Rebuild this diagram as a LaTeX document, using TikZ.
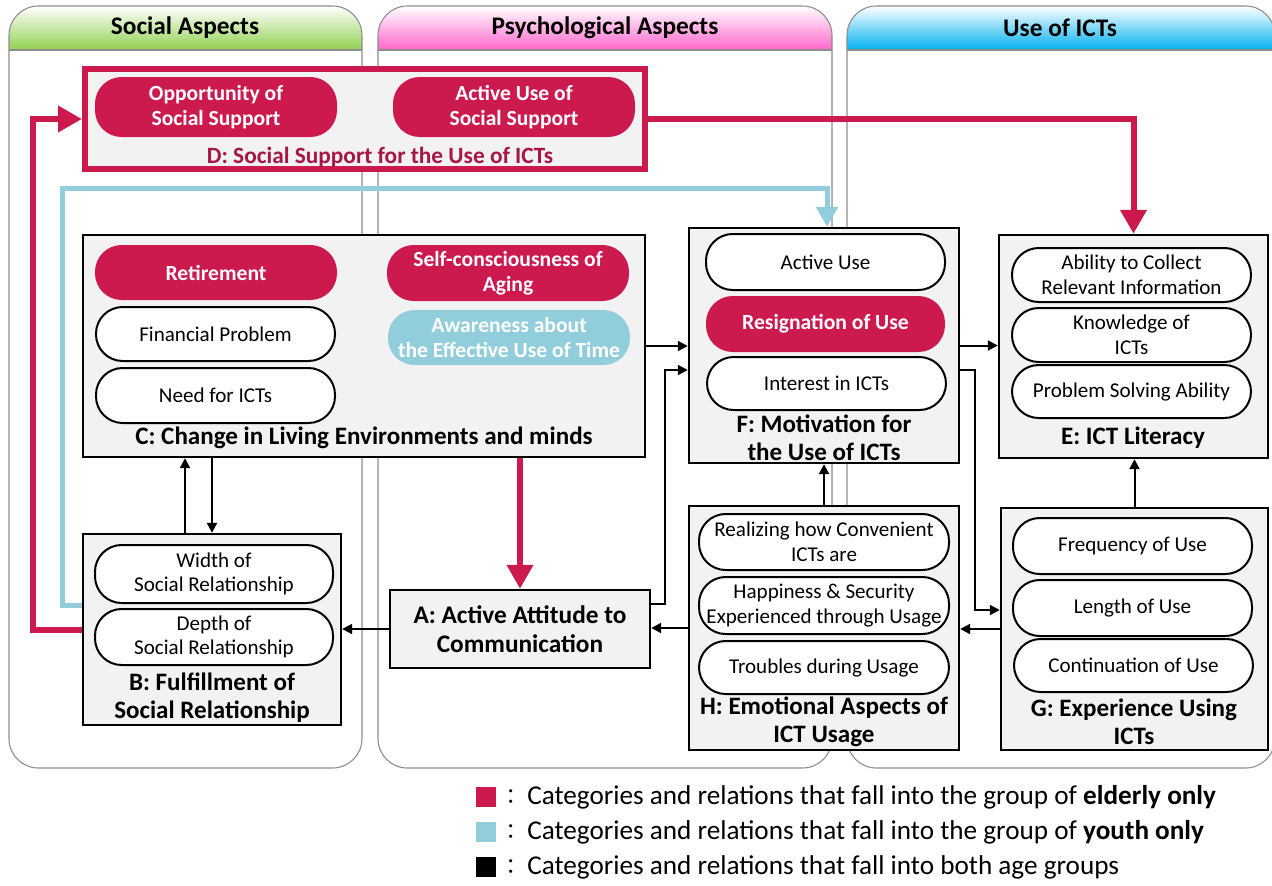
\documentclass[tikz,border=0pt]{standalone}
\usepackage{fontspec}
\setmainfont{Carlito}
\newfontfamily\cjk{Noto Sans CJK JP}
\usetikzlibrary{arrows.meta,calc}
\definecolor{crim}{RGB}{205,26,78}
\definecolor{crimdark}{RGB}{168,22,70}
\definecolor{lblue}{RGB}{146,205,220}
\definecolor{boxgray}{RGB}{242,242,242}
\definecolor{panelgray}{RGB}{140,140,140}
\definecolor{hgreen}{RGB}{146,208,80}
\definecolor{hpink}{RGB}{255,102,204}
\definecolor{hblue}{RGB}{0,176,240}
\tikzset{
  panelline/.style={draw=panelgray, line width=0.8pt},
  box/.style={draw=black, line width=1.8pt, fill=boxgray, inner sep=0pt},
  dbox/.style={draw=crim, line width=4.5pt, fill=boxgray, inner sep=0pt},
  pillw/.style={draw=black, line width=1.5pt, fill=white, rounded corners=20pt, inner sep=0pt, align=center, font=\fontsize{15.8}{18.5}\selectfont},
  pillc/.style={fill=crim, rounded corners=20pt, inner sep=0pt, align=center, text=white, font=\bfseries\fontsize{16.2}{19}\selectfont},
  pillb/.style={fill=lblue, rounded corners=20pt, inner sep=0pt, align=center, text=white, font=\bfseries\fontsize{16.2}{19}\selectfont},
  lab/.style={font=\bfseries\fontsize{18.8}{21}\selectfont, align=center, inner sep=0pt},
  alab/.style={font=\bfseries\fontsize{19}{21.5}\selectfont, align=center},
  dlab/.style={font=\bfseries\fontsize{17.5}{20}\selectfont, inner sep=0pt, text=crimdark},
  head/.style={font=\bfseries\fontsize{19}{22}\selectfont, inner sep=0pt},
  leg/.style={font=\fontsize{20.4}{23}\selectfont, anchor=west, inner sep=0pt},
  arr/.style={line width=1.5pt, -{Triangle[length=7.5pt,width=7.5pt]}},
  carr/.style={draw=crim, line width=4.5pt, -{Triangle[length=18pt,width=19pt]}},
  barr/.style={draw=lblue, line width=3.75pt, -{Triangle[length=15pt,width=16pt]}},
}
\newcommand\mkbox[7]{\node[#1, minimum width={(#5-#3)*0.75pt}, minimum height={(#6-#4)*0.75pt}] (#2) at ({(#3+#5)/2},{(#4+#6)/2}) {#7};}
\begin{document}
\begin{tikzpicture}[x=0.75pt,y=-0.75pt]
\useasboundingbox (0,0) rectangle (1272,886);
\fill[white] (0,0) rectangle (1272,886);
% panels
\begin{scope}
\clip[rounded corners=22pt] (9,6) rectangle (362,768);
\shade[top color=white, bottom color=hgreen] (9,6) rectangle (362,50);
\end{scope}
\draw[panelline, rounded corners=22pt] (9,6) rectangle (362,768);
\draw[panelline] (9,50) -- (362,50);
\begin{scope}
\clip[rounded corners=22pt] (378,6) rectangle (832,768);
\shade[top color=white, bottom color=hpink] (378,6) rectangle (832,50);
\end{scope}
\draw[panelline, rounded corners=22pt] (378,6) rectangle (832,768);
\draw[panelline] (378,50) -- (832,50);
\begin{scope}
\clip[rounded corners=22pt] (847,6) rectangle (1275,768);
\shade[top color=white, bottom color=hblue] (847,6) rectangle (1275,50);
\end{scope}
\draw[panelline, rounded corners=22pt] (847,6) rectangle (1275,768);
\draw[panelline] (847,50) -- (1275,50);
\node[head] (hs) at (185,28) {Social Aspects};
\node[head] (hp) at (605,28) {Psychological Aspects};
\node[head] (hi) at (1060,28) {Use of ICTs};

% D
\mkbox{dbox}{D}{85}{69}{645}{169}{}
\mkbox{pillc}{d1}{95}{77}{337}{137}{Opportunity of\\Social Support}
\mkbox{pillc}{d2}{393}{77}{635}{137}{Active Use of\\Social Support}
\node[dlab] (labD) at (380,157) {D: Social Support for the Use of ICTs};

% C
\mkbox{box}{C}{83}{235}{645}{457}{}
\mkbox{pillc}{c1}{95}{245}{337}{300}{Retirement}
\mkbox{pillw}{c2}{96}{307}{335}{361}{Financial Problem}
\mkbox{pillw}{c3}{96}{368}{335}{423}{Need for ICTs}
\mkbox{pillc}{c4}{387}{245}{629}{301}{Self-consciousness of\\Aging}
\mkbox{pillb}{c5}{388}{310}{630}{365}{Awareness about\\the Effective Use of Time}
\node[lab] (labC) at (364,438) {C: Change in Living Environments and minds};

% B
\mkbox{box}{B}{83}{534}{341}{725}{}
\mkbox{pillw}{b1}{95}{545}{333}{603}{Width of\\Social Relationship}
\mkbox{pillw}{b2}{95}{609}{333}{665}{Depth of\\Social Relationship}
\node[lab] (labB) at (212,698) {B: Fulfillment of\\Social Relationship};

% A
\mkbox{box,alab}{A}{390}{590}{650}{668}{A: Active Attitude to\\Communication}

% F
\mkbox{box}{F}{689}{228}{959}{463}{}
\mkbox{pillw}{f1}{706}{234}{945}{290}{Active Use}
\mkbox{pillc}{f2}{706}{296}{945}{352}{Resignation of Use}
\mkbox{pillw}{f3}{707}{357}{946}{410}{Interest in ICTs}
\node[lab] (labF) at (824,438) {F: Motivation for\\the Use of ICTs};

% E
\mkbox{box}{E}{999}{235}{1268}{458}{}
\mkbox{pillw}{e1}{1012}{248}{1251}{302}{Ability to Collect\\Relevant Information}
\mkbox{pillw}{e2}{1012}{308}{1251}{362}{Knowledge of\\ICTs}
\mkbox{pillw}{e3}{1012}{365}{1251}{418}{Problem Solving Ability}
\node[lab] (labE) at (1133,438) {E: ICT Literacy};

% H
\mkbox{box}{H}{689}{506}{959}{750}{}
\mkbox{pillw}{h1}{699}{514}{949}{570}{Realizing how Convenient\\ICTs are}
\mkbox{pillw}{h2}{699}{577}{949}{634}{Happiness \& Security\\Experienced through Usage}
\mkbox{pillw}{h3}{699}{641}{949}{694}{Troubles during Usage}
\node[lab] (labH) at (824,722) {H: Emotional Aspects of\\ICT Usage};

% G
\mkbox{box}{G}{1001}{508}{1268}{750}{}
\mkbox{pillw}{g1}{1013}{518}{1252}{574}{Frequency of Use}
\mkbox{pillw}{g2}{1013}{580}{1252}{636}{Length of Use}
\mkbox{pillw}{g3}{1014}{639}{1253}{692}{Continuation of Use}
\node[lab] (labG) at (1134,722) {G: Experience Using\\ICTs};

% coordinates for bends
\coordinate (k1) at (665,370);
\coordinate (k2) at (975,610);
\coordinate (k3) at (33,0);
\coordinate (k4) at (62,188);
\coordinate (k5) at (827,188);

% black connectors
\draw[arr] (C.east) -- (C.east -| F.west);
\draw[arr] (F.east) -- (F.east -| E.west);
\draw[arr] ($(A.east)+(0,-25)$) -| (k1) -- (k1 -| F.west);
\draw[arr] (F.east |- k1) -| (k2) -- (k2 -| G.west);
\draw[arr] (A.west) -- (A.west -| B.east);
\draw[arr] (H.west) -- (H.west -| A.east);
\draw[arr] (G.west) -- (G.west -| H.east);
\draw[arr] (H.north) -- (H.north |- F.south);
\draw[arr] (G.north) -- (G.north |- E.south);
\draw[arr] ($(B.north)+(-27,0)$) -- ($(B.north |- C.south)+(-27,0)$);
\draw[arr] (C.south -| B.north) -- (B.north);

% crimson connectors
\draw[carr] (C.south -| A.north) -- (A.north);
\draw[carr] (B.west) -- (B.west -| k3) |- (D.west);
\draw[carr] (D.east) -| (E.north);

% blue connector
\draw[barr] ($(B.west)+(0,-24)$) -| (k4) -- (k5) -- (k5 |- F.north);

% legend
\fill[crim] (476,787) rectangle (496,807);
\fill[lblue] (476,822) rectangle (496,842);
\fill[black] (476,857) rectangle (496,877);
\node[font=\cjk\fontsize{16}{18}\selectfont, inner sep=0pt] (c1c) at (511,797) {：};
\node[font=\cjk\fontsize{16}{18}\selectfont, inner sep=0pt] (c2c) at (511,832) {：};
\node[font=\cjk\fontsize{16}{18}\selectfont, inner sep=0pt] (c3c) at (511,867) {：};
\node[leg] (l1) at (527,797) {Categories and relations that fall into the group of \textbf{elderly only}};
\node[leg] (l2) at (527,832) {Categories and relations that fall into the group of \textbf{youth only}};
\node[leg] (l3) at (527,867) {Categories and relations that fall into both age groups};
\end{tikzpicture}
\end{document}
